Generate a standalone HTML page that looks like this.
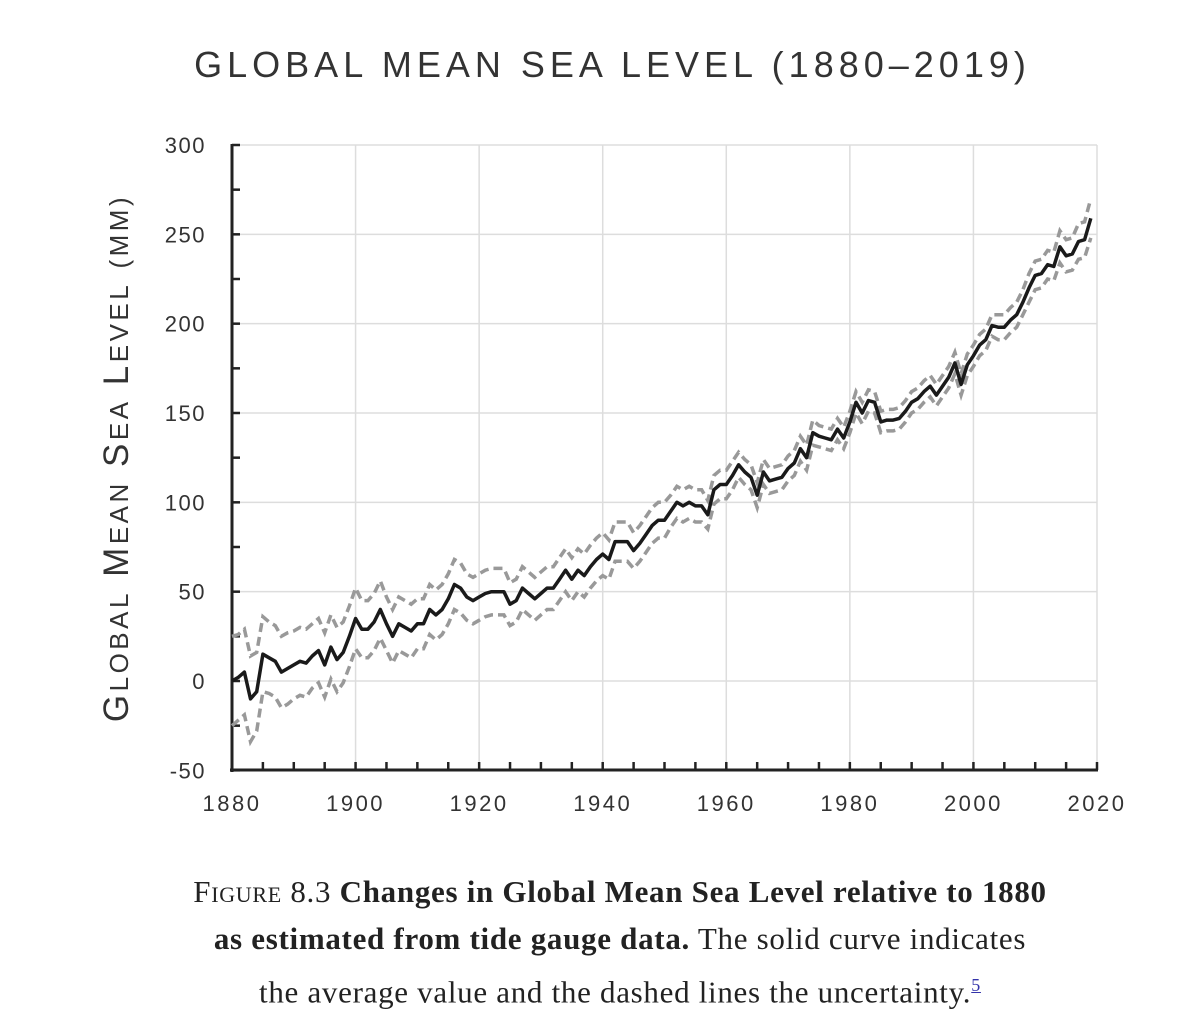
<!DOCTYPE html>
<html><head><meta charset="utf-8"><style>
body{margin:0;background:#fff;width:1200px;height:1023px;overflow:hidden}
.cap{position:absolute;left:0;width:1240px;text-align:center;font-family:"Liberation Serif",serif;font-size:31px;letter-spacing:0.7px;color:#222;line-height:47px}
</style></head><body>
<div style="position:absolute;top:44px;left:0;width:1225px;text-align:center;font-family:'Liberation Sans',sans-serif;font-size:36px;letter-spacing:5px;color:#333;font-weight:normal">GLOBAL MEAN SEA LEVEL (1880–2019)</div>
<svg id="chart" width="1200" height="860" style="position:absolute;left:0;top:0"></svg>
<div class="cap" style="top:868px">
<span style="font-variant:small-caps">Figure</span> 8.3 <b>Changes in Global Mean Sea Level relative to 1880</b><br><b>as estimated from tide gauge data.</b> The solid curve indicates<br>the average value and the dashed lines the uncertainty.<sup style="font-size:18px;text-decoration:underline;color:#33a">5</sup></div>
<script>
const years=[];for(let y=1880;y<=2019;y++)years.push(y);
const meanLevel=[0,2,5,-10,-6,15,13,11,5,7,9,11,10,14,17,9,19,12,16,25,
35,29,29,33,40,32,25,32,30,28,32,32,40,37,40,46,54,52,47,45,
47,49,50,50,50,43,45,52,49,46,49,52,52,57,62,57,62,59,64,68,
71,68,78,78,78,73,77,82,87,90,90,95,100,98,100,98,98,93,107,110,
110,115,121,117,114,104,117,112,113,114,119,122,130,125,139,137,136,135,141,136,
145,156,150,157,156,145,146,146,147,151,156,158,162,165,160,165,170,178,166,177,
182,188,191,199,198,198,202,205,212,220,227,228,233,232,243,238,239,246,247,259];
const uncertainty=[25,24,24,24,22,21,20,20,20,20,19,19,19,18,18,18,18,18,17,17,
17,16,16,16,16,15,15,15,15,15,14,14,14,14,14,14,14,14,13,13,
13,13,13,13,13,12,12,12,12,12,12,12,12,12,12,12,12,12,12,12,
12,11,11,11,11,10,10,10,10,10,10,9,9,9,9,9,9,8,8,8,
8,8,7,7,7,7,7,7,7,7,7,7,7,7,7,6,6,6,6,6,
6,6,6,6,6,6,6,6,6,6,6,6,6,6,6,6,6,6,6,6,
6,6,6,6,7,7,7,7,7,8,8,8,8,8,9,9,9,10,10,11];
const yTicks=[-50,0,50,100,150,200,250,300];
const xTicks=[1880,1900,1920,1940,1960,1980,2000,2020];
const NS="http://www.w3.org/2000/svg",svg=document.getElementById('chart');
const X=y=>232+(y-1880)*(1097-232)/140, Y=v=>681-v*(681-145)/300;
function el(t,a,p){const e=document.createElementNS(NS,t);for(const k in a)e.setAttribute(k,a[k]);(p||svg).appendChild(e);return e;}
for(const t of yTicks){if(t===-50)continue;const g=el('line',{x1:232,x2:1097,y1:Y(t),y2:Y(t),stroke:'#ddd','stroke-width':1.5});

}
for(const t of xTicks){if(t===1880)continue;const g=el('line',{x1:X(t),x2:X(t),y1:145,y2:770,stroke:'#ddd','stroke-width':1.5});

}
for(let v=-50;v<=300;v+=25){const t=el('line',{x1:232,x2:240,y1:Y(v),y2:Y(v),stroke:'#222','stroke-width':2.5});

}
for(let yr=1885;yr<=2020;yr+=5){const t=el('line',{x1:X(yr),x2:X(yr),y1:770,y2:762,stroke:'#222','stroke-width':2.5});

}
const ya=el('line',{x1:232,x2:232,y1:144,y2:772,stroke:'#222','stroke-width':3});


const xa=el('line',{x1:230,x2:1098,y1:770,y2:770,stroke:'#222','stroke-width':3});


for(const t of yTicks){const l=el('text',{x:206,y:Y(t)+8,'text-anchor':'end','font-family':'Liberation Sans, sans-serif','font-size':22,fill:'#333','letter-spacing':1.5});
l.textContent=t===-50?'-50':t;

}
for(const t of xTicks){const l=el('text',{x:X(t),y:811,'text-anchor':'middle','font-family':'Liberation Sans, sans-serif','font-size':22,fill:'#333','letter-spacing':2.5});
l.textContent=t;

}
const yt=el('text',{transform:'translate(128,458) rotate(-90)','text-anchor':'middle','font-family':'Liberation Sans, sans-serif','font-size':35,fill:'#333','letter-spacing':3.5});
yt.innerHTML='G<tspan font-size="26">LOBAL</tspan> M<tspan font-size="26">EAN</tspan> S<tspan font-size="26">EA</tspan> L<tspan font-size="26">EVEL</tspan> <tspan font-size="26">(MM)</tspan>';


const pts=f=>years.map((yr,i)=>X(yr).toFixed(1)+','+Y(f(i)).toFixed(1)).join(' ');
const up=el('polyline',{points:pts(i=>meanLevel[i]+uncertainty[i]),fill:'none',stroke:'#999','stroke-width':3.5,'stroke-dasharray':'9,5'});


const lo=el('polyline',{points:pts(i=>meanLevel[i]-uncertainty[i]),fill:'none',stroke:'#999','stroke-width':3.5,'stroke-dasharray':'9,5'});


const m=el('polyline',{points:pts(i=>meanLevel[i]),fill:'none',stroke:'#1a1a1a','stroke-width':3.5,'stroke-linejoin':'round'});


</script>
</body></html>
